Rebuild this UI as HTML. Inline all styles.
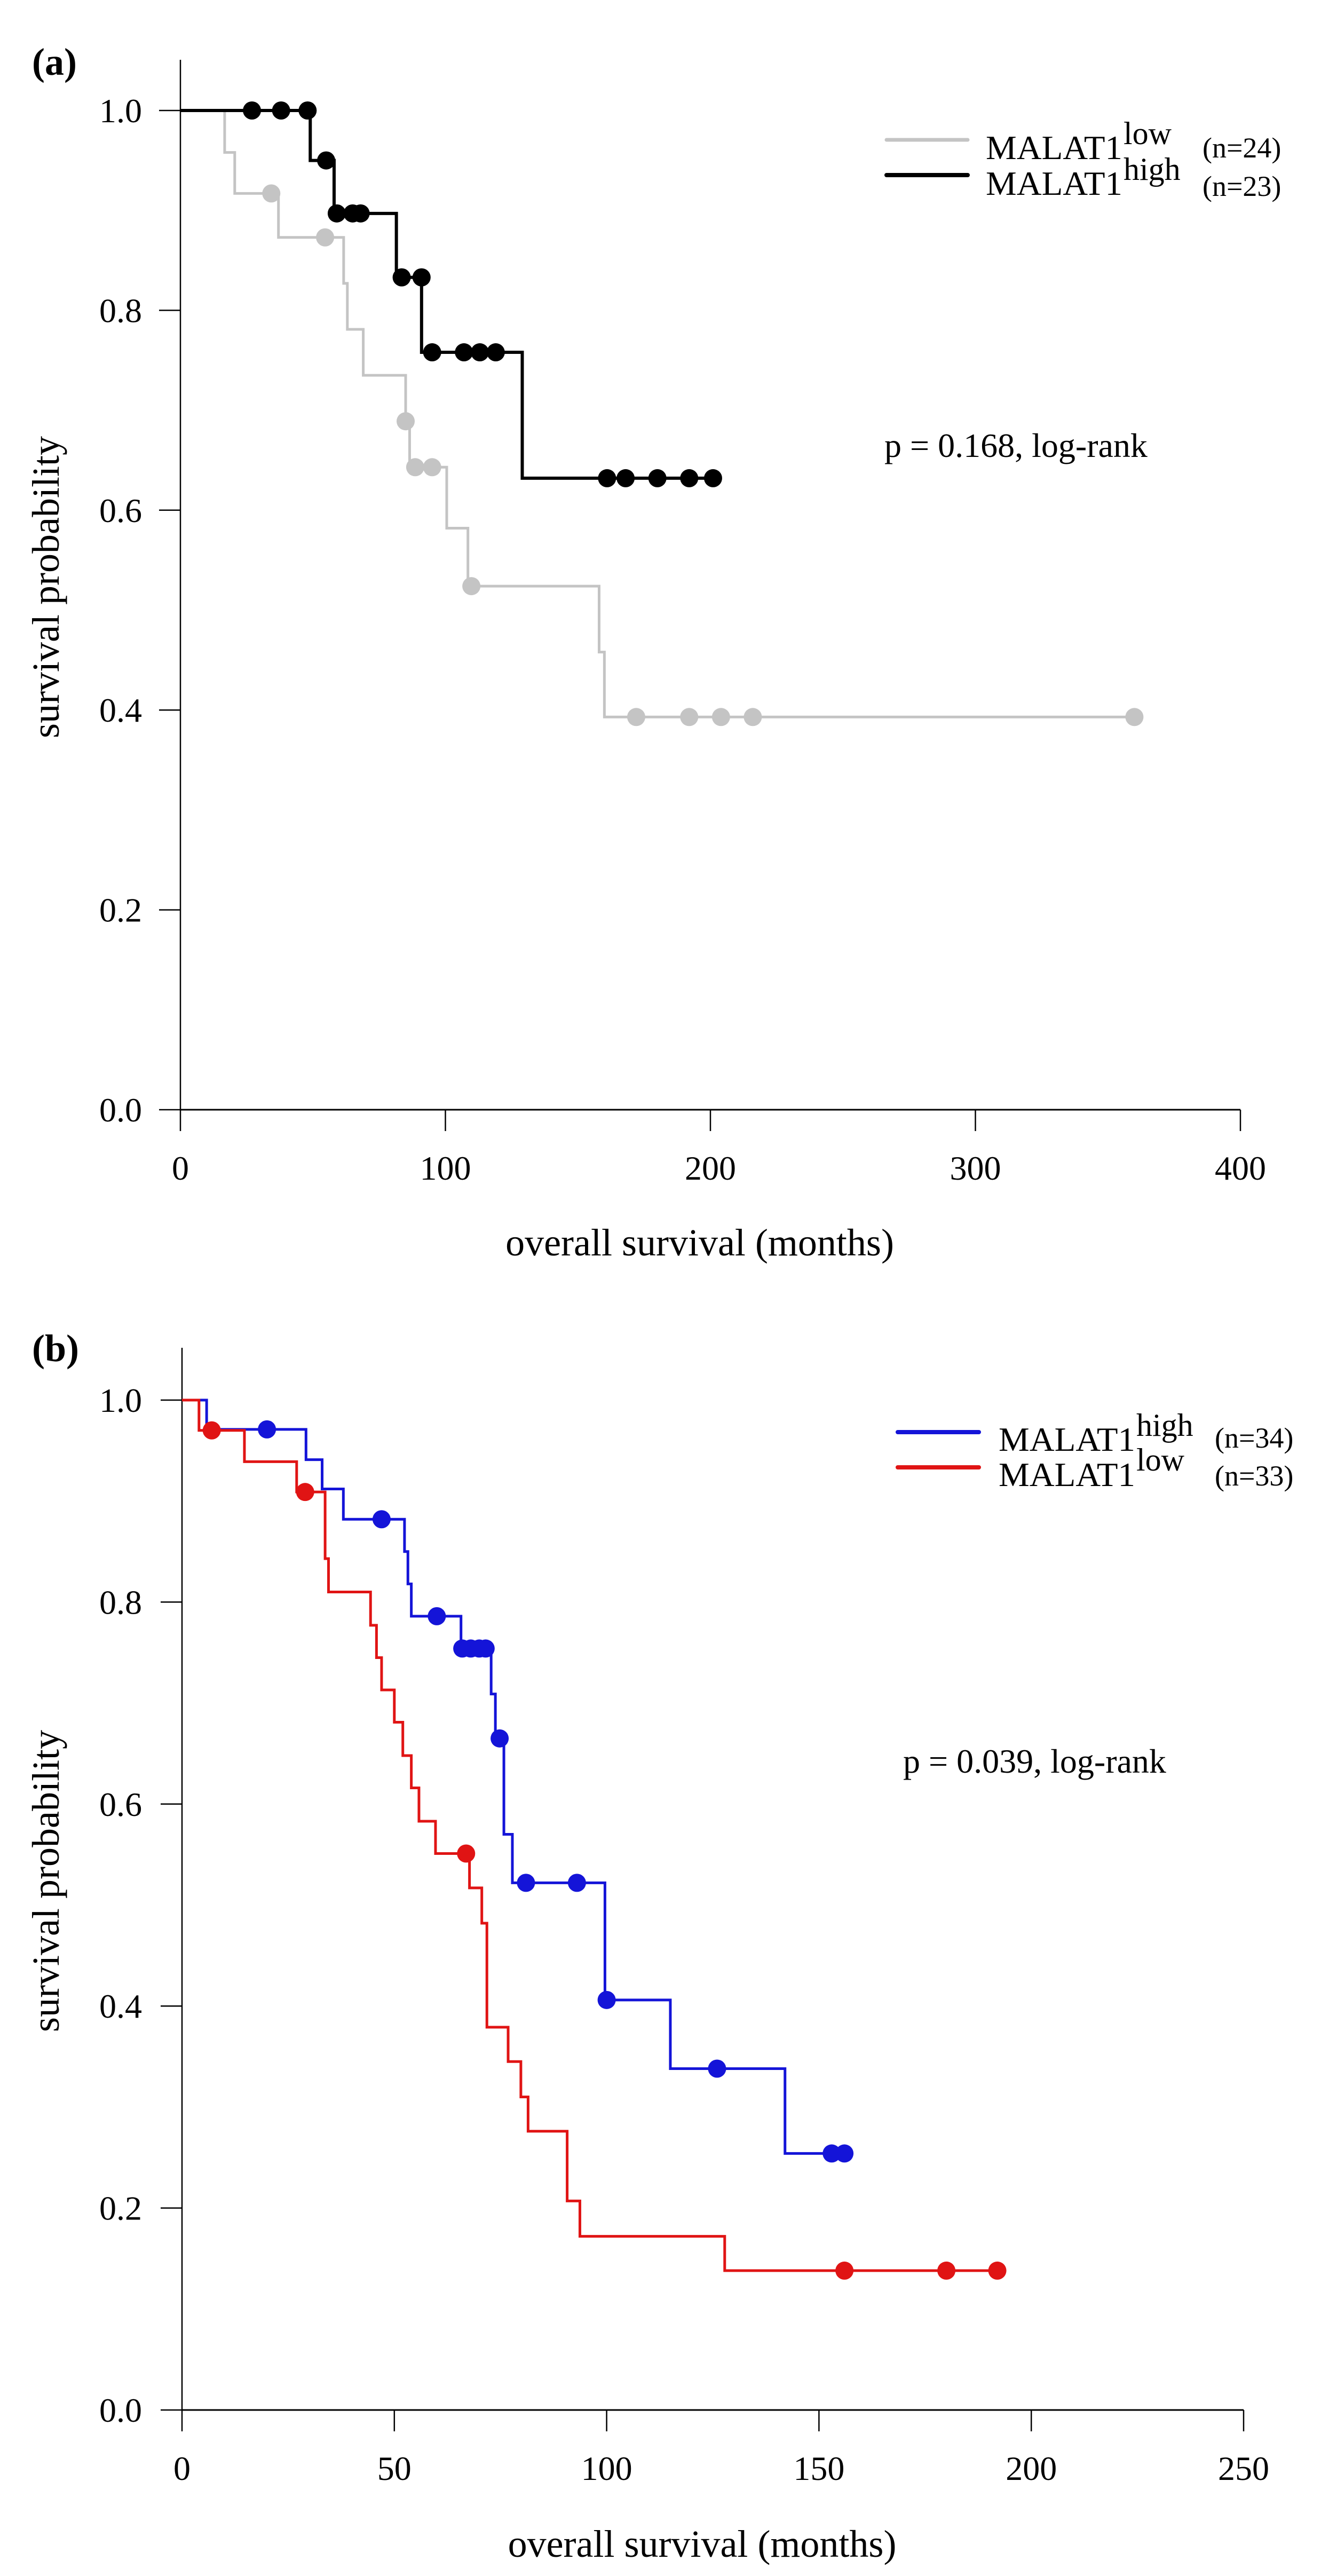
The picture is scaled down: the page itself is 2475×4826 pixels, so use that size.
<!DOCTYPE html>
<html><head><meta charset="utf-8"><style>
html,body{margin:0;padding:0;background:#fff;}
svg{display:block;font-family:"Liberation Serif",serif;}
</style></head><body>
<svg id="fig" width="2475" height="4826" viewBox="0 0 2475 4826" xmlns="http://www.w3.org/2000/svg">
<rect x="0" y="0" width="2475" height="4826" fill="#fff"/>
</svg>
<script>
// ---------- Panel (a) data ----------
const aXTicks = [0,100,200,300,400];
const aYTicks = [0.0,0.2,0.4,0.6,0.8,1.0];
const aHighStepT = [0,49,58,81.5,91,129,202];
const aHighStepS = [1.0,0.950,0.897,0.833,0.758,0.632,0.632];
const aHighCensT = [27,38,48,55,59,65,68,83.5,91,95,107,113,119,161,168,180,192,201];
const aHighCensS = [1.0,1.0,1.0,0.950,0.897,0.897,0.897,0.833,0.833,0.758,0.758,0.758,0.758,0.632,0.632,0.632,0.632,0.632];
const aLowStepT = [0,16.7,20.5,37,61.6,63,69,85,86.5,100.5,108.5,158,160,360];
const aLowStepS = [1.0,0.958,0.917,0.873,0.827,0.781,0.735,0.689,0.643,0.582,0.524,0.458,0.393,0.393];
const aLowCensT = [34.3,54.6,85,88.6,95,109.8,172,192,204,216,360];
const aLowCensS = [0.917,0.873,0.689,0.643,0.643,0.524,0.393,0.393,0.393,0.393,0.393];

// ---------- Panel (b) data ----------
const bXTicks = [0,50,100,150,200,250];
const bYTicks = [0.0,0.2,0.4,0.6,0.8,1.0];
const bHighStepT = [0,5.8,29.2,33,38,52.4,53.2,54,65.7,72.8,73.8,75.8,77.8,99.6,115,142,156];
const bHighStepS = [1.0,0.971,0.941,0.912,0.882,0.850,0.818,0.786,0.754,0.709,0.665,0.570,0.522,0.406,0.338,0.254,0.254];
const bHighCensT = [20,47,60,66,68,70,71.5,74.8,81,93,100,126,153,156];
const bHighCensS = [0.971,0.882,0.786,0.754,0.754,0.754,0.754,0.665,0.522,0.522,0.406,0.338,0.254,0.254];
const bLowStepT = [0,4,14.7,27,33.7,34.5,44.4,45.8,47,50,52,54,55.8,59.7,67.7,70.6,71.8,76.8,79.8,81.5,90.7,93.7,127.8,192];
const bLowStepS = [1.0,0.970,0.939,0.909,0.843,0.810,0.777,0.745,0.713,0.681,0.648,0.616,0.583,0.551,0.517,0.482,0.379,0.345,0.310,0.276,0.207,0.172,0.138,0.138];
const bLowCensT = [7,29,66.9,156,180,192];
const bLowCensS = [0.970,0.909,0.551,0.138,0.138,0.138];

const NS = "http://www.w3.org/2000/svg";
const svg = document.getElementById('fig');
function mk(tag, attrs, parent){
  const e = document.createElementNS(NS, tag);
  for (const k in attrs) e.setAttribute(k, attrs[k]);
  (parent||svg).appendChild(e);
  return e;
}

function panel(cfg){
  const g = mk('g', {});
  
  
  const sx = t => cfg.x0 + (t - cfg.xMin) / (cfg.xMax - cfg.xMin) * (cfg.x1 - cfg.x0);
  const sy = s => cfg.y0 - s * (cfg.y0 - cfg.y1);
  // axes
  const ya = mk('line', {x1:cfg.x0, y1:cfg.axTop, x2:cfg.x0, y2:cfg.y0, stroke:'#000','stroke-width':2.5}, g);
  
  
  const xa = mk('line', {x1:cfg.x0, y1:cfg.y0, x2:cfg.x1, y2:cfg.y0, stroke:'#000','stroke-width':3}, g);
  
  
  cfg.xTicks.forEach(v => {
    const x = sx(v);
    const tk = mk('line', {x1:x, y1:cfg.y0, x2:x, y2:cfg.y0+40, stroke:'#000','stroke-width':2.5}, g);
    
    
    const tl = mk('text', {x:x, y:cfg.y0+131, 'text-anchor':'middle','font-size':64, fill:'#000'}, g);
    
    
    tl.textContent = String(v);
  });
  cfg.yTicks.forEach(v => {
    const y = sy(v);
    const tk = mk('line', {x1:cfg.x0-40, y1:y, x2:cfg.x0, y2:y, stroke:'#000','stroke-width':2.5}, g);
    
    
    const tl = mk('text', {x:266, y:y+22, 'text-anchor':'end','font-size':64, fill:'#000'}, g);
    
    
    tl.textContent = v.toFixed(1);
  });
  // titles
  const xt = mk('text', {x:(cfg.x0+cfg.x1)/2 - 20, y:cfg.xTitleY, 'text-anchor':'middle','font-size':72, fill:'#000'}, g);
  
  
  xt.textContent = 'overall survival (months)';
  const yt = mk('text', {x:0, y:0, 'text-anchor':'middle','font-size':72, fill:'#000', transform:`translate(110,${cfg.yTitleY}) rotate(-90)`}, g);
  
  
  yt.textContent = 'survival probability';
  const pl = mk('text', {x:60, y:cfg.labelY, 'font-size':72,'font-weight':'bold', fill:'#000'}, g);
  
  
  pl.textContent = cfg.label;
  const pv = mk('text', {x:cfg.pX, y:cfg.pY, 'font-size':64, fill:'#000'}, g);
  
  
  pv.textContent = cfg.pText;
  // series
  cfg.series.forEach(s => {
    let d = '';
    for (let i = 0; i < s.t.length; i++) {
      const x = sx(s.t[i]), y = sy(s.s[i]);
      if (i === 0) d += `M${x},${y}`;
      else d += `H${x}V${y}`;
    }
    const p = mk('path', {d:d, fill:'none', stroke:s.color, 'stroke-width':s.w, 'stroke-linejoin':'miter'}, g);
    
    
    s.ct.forEach((t, i) => {
      const c = mk('circle', {cx:sx(t), cy:sy(s.cs[i]), r:17, fill:s.color}, g);
      
      
    });
  });
  // legend
  cfg.legend.forEach(L => {
    const lg = mk('g', {}, g);
    
    
    mk('line', {x1:L.lx0, y1:L.ly, x2:L.lx0+152, y2:L.ly, stroke:L.color, 'stroke-width':L.w, 'stroke-linecap':'round'}, lg);
    const t1 = mk('text', {x:L.tx, y:L.ty, 'font-size':64, fill:'#000', textLength:256, lengthAdjust:'spacingAndGlyphs'}, lg);
    t1.textContent = 'MALAT1';
    const t2 = mk('text', {x:L.tx+258, y:L.sy, 'font-size':60, fill:'#000'}, lg);
    t2.textContent = L.sup;
    const t3 = mk('text', {x:L.nx, y:L.ny, 'font-size':54, fill:'#000'}, lg);
    t3.textContent = L.n;
  });
}

panel({name:'panel-a', label:'(a)', labelY:140,
  x0:338, x1:2324, xMin:0, xMax:400, y0:2079, y1:207, axTop:112,
  xTicks:aXTicks, yTicks:aYTicks, xTitleY:2352, yTitleY:1100,
  pX:1657, pY:856, pText:'p = 0.168, log-rank',
  series:[
    {name:'malat1-low', t:aLowStepT, s:aLowStepS, ct:aLowCensT, cs:aLowCensS, color:'#c4c4c4', w:5},
    {name:'malat1-high', t:aHighStepT, s:aHighStepS, ct:aHighCensT, cs:aHighCensS, color:'#000', w:6}
  ],
  legend:[
    {lx0:1661, ly:262, color:'#c4c4c4', w:7, tx:1847, ty:298, sup:'low', sy:270, n:'(n=24)', nx:2253, ny:295},
    {lx0:1661, ly:328, color:'#000', w:8, tx:1847, ty:365, sup:'high', sy:337, n:'(n=23)', nx:2253, ny:367}
  ]
});

panel({name:'panel-b', label:'(b)', labelY:2550,
  x0:341, x1:2330, xMin:0, xMax:250, y0:4515, y1:2623, axTop:2525,
  xTicks:bXTicks, yTicks:bYTicks, xTitleY:4790, yTitleY:3524,
  pX:1692, pY:3321, pText:'p = 0.039, log-rank',
  series:[
    {name:'malat1-high', t:bHighStepT, s:bHighStepS, ct:bHighCensT, cs:bHighCensS, color:'#1414d8', w:5},
    {name:'malat1-low', t:bLowStepT, s:bLowStepS, ct:bLowCensT, cs:bLowCensS, color:'#e01414', w:5}
  ],
  legend:[
    {lx0:1682, ly:2683, color:'#1414d8', w:8, tx:1871, ty:2718, sup:'high', sy:2690, n:'(n=34)', nx:2276, ny:2712},
    {lx0:1682, ly:2749, color:'#e01414', w:8, tx:1871, ty:2784, sup:'low', sy:2755, n:'(n=33)', nx:2276, ny:2783}
  ]
});
</script>
</body></html>
